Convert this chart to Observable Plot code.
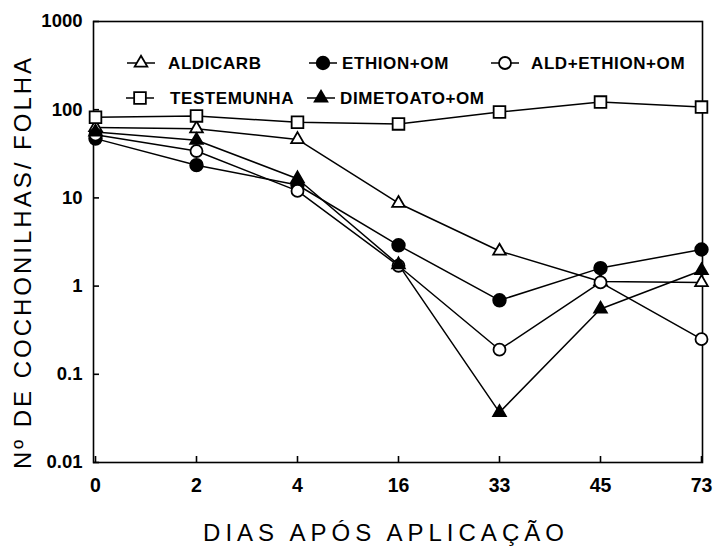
<!DOCTYPE html>
<html>
<head>
<meta charset="utf-8">
<script src="https://cdn.jsdelivr.net/npm/d3@7"></script>
<script src="https://cdn.jsdelivr.net/npm/@observablehq/plot@0.6"></script>
<style>
  html, body { margin: 0; padding: 0; background: white; }
</style>
</head>
<body>
<div id="chart"></div>
<script>
// ---- data ----
const days = ["0", "2", "4", "16", "33", "45", "73"];
const seriesNames = ["ALDICARB", "ETHION+OM", "ALD+ETHION+OM", "TESTEMUNHA", "DIMETOATO+OM"];
const aldicarb   = [63, 61, 46, 8.7, 2.5, 1.13, 1.1];
const ethion     = [47, 23.5, 14, 2.9, 0.69, 1.6, 2.6];
const aldEthion  = [52, 34, 12, 1.7, 0.19, 1.1, 0.25];
const testemunha = [82, 85, 72, 69, 94, 122, 107];
const dimetoato  = [56, 45, 16.5, 1.75, 0.037, 0.55, 1.5];
const yTicks = [0.01, 0.1, 1, 10, 100, 1000];
const xTitle = "DIAS APÓS APLICAÇÃO";
const yTitle = "Nº DE COCHONILHAS/ FOLHA";

const valuesBySeries = {
  "ALDICARB": aldicarb,
  "ETHION+OM": ethion,
  "ALD+ETHION+OM": aldEthion,
  "TESTEMUNHA": testemunha,
  "DIMETOATO+OM": dimetoato
};
const styleBySeries = {
  "ALDICARB":      {symbol: "triangle", fill: "white", r: 4.7},
  "ETHION+OM":     {symbol: "circle",   fill: "black", r: 6.3},
  "ALD+ETHION+OM": {symbol: "circle",   fill: "white", r: 6},
  "TESTEMUNHA":    {symbol: "square",   fill: "white", r: 6.6},
  "DIMETOATO+OM":  {symbol: "triangle", fill: "black", r: 4.7}
};

const rows = [];
for (const s of seriesNames) {
  valuesBySeries[s].forEach((v, i) => rows.push({series: s, day: days[i], value: v}));
}

const font = "'Liberation Sans', Arial, Helvetica, sans-serif";

const dotMarks = seriesNames.map(s => Plot.dot(rows.filter(d => d.series === s), {
  x: "day", y: "value",
  symbol: styleBySeries[s].symbol,
  r: styleBySeries[s].r,
  fill: styleBySeries[s].fill,
  stroke: "black", strokeWidth: 1.8
}));

const chart = Plot.plot({
  width: 716, height: 547,
  marginLeft: 93, marginRight: 14, marginTop: 21, marginBottom: 85,
  style: {fontFamily: font, background: "white", color: "black", overflow: "visible"},
  x: {type: "point", domain: days, padding: 0, label: null},
  y: {type: "log", domain: [0.01, 1000], label: null},
  marks: [
    Plot.frame({stroke: "black", strokeWidth: 1.6}),
    Plot.axisX({tickSize: -6, tickPadding: 22, fontSize: 19.5, fontWeight: "bold", strokeWidth: 1.6, label: null}),
    Plot.axisY({ticks: yTicks, tickFormat: d => String(d), tickSize: -6, tickPadding: 17, fontSize: 18.5, fontWeight: "bold", strokeWidth: 1.6, label: null}),
    Plot.line(rows, {x: "day", y: "value", z: "series", stroke: "black", strokeWidth: 1.5}),
    ...dotMarks,
    Plot.text([xTitle], {frameAnchor: "bottom", textAnchor: "middle", dx: -12, dy: 78, fontSize: 24, lineAnchor: "bottom"}),
    Plot.text([yTitle], {frameAnchor: "left", textAnchor: "middle", rotate: -90, dx: -70, dy: 20, fontSize: 24})
  ]
});

document.getElementById("chart").appendChild(chart);

const svg = d3.select(chart.tagName.toLowerCase() === "svg" ? chart : chart.querySelector("svg"));
// letter spacing of the axis titles
svg.selectAll("text").each(function () {
  const t = this.textContent;
  if (t === xTitle) { this.style.letterSpacing = "5px"; }
  if (t === yTitle) { this.style.letterSpacing = "3px"; }
});

// ---- legend inside the plot area ----
const legendLayout = [
  {name: "ALDICARB",      cx: 141, cy: 63, tx: 168},
  {name: "ETHION+OM",     cx: 323, cy: 63, tx: 342},
  {name: "ALD+ETHION+OM", cx: 505, cy: 63, tx: 531},
  {name: "TESTEMUNHA",    cx: 140, cy: 98, tx: 170},
  {name: "DIMETOATO+OM",  cx: 321, cy: 98, tx: 340}
];
const lg = svg.append("g").attr("aria-label", "legend").attr("text-anchor", "start");
const symMap = {triangle: d3.symbolTriangle, circle: d3.symbolCircle, square: d3.symbolSquare};
legendLayout.forEach(e => {
  const st = styleBySeries[e.name];
  lg.append("line").attr("x1", e.cx - 14).attr("x2", e.cx + 14).attr("y1", e.cy).attr("y2", e.cy)
    .attr("stroke", "black").attr("stroke-width", 1.5);
  if (st.symbol === "circle") {
    lg.append("circle").attr("cx", e.cx).attr("cy", e.cy).attr("r", st.r)
      .attr("fill", st.fill).attr("stroke", "black").attr("stroke-width", 1.8);
  } else {
    lg.append("path").attr("transform", `translate(${e.cx},${e.cy})`)
      .attr("d", d3.symbol(symMap[st.symbol], Math.PI * st.r * st.r)())
      .attr("fill", st.fill).attr("stroke", "black").attr("stroke-width", 1.8);
  }
  lg.append("text").attr("x", e.tx).attr("y", e.cy).attr("dy", "0.35em")
    .attr("text-anchor", "start")
    .style("letter-spacing", "0.6px")
    .attr("font-family", font).attr("font-size", 17).attr("font-weight", "bold")
    .attr("fill", "black").text(e.name);
});
</script>
</body>
</html>
